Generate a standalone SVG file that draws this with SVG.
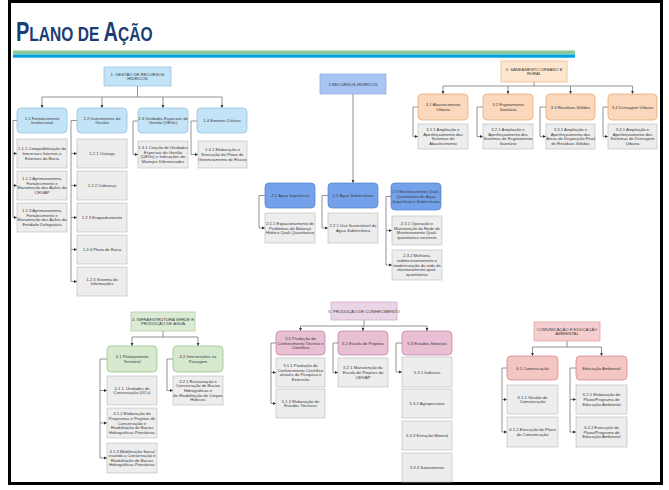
<svg xmlns="http://www.w3.org/2000/svg" width="669" height="490" viewBox="0 0 669 490">
<style>
text{font-family:"Liberation Sans",Arial,sans-serif;font-size:4.2px;fill:#3a3a3a;text-anchor:middle}
.g{fill:#ededed;stroke:#b8b8b8;stroke-width:0.6}
.b1{fill:#c3e3f7;stroke:#8cbddd;stroke-width:0.7}
.b2{fill:#a9c6f2;stroke:#86a8dc;stroke-width:0.7}
.b3{fill:#74a2ea;stroke:#4f7fcf;stroke-width:0.7}
.o1{fill:#fce6cf;stroke:#efb27c;stroke-width:0.7}
.o2{fill:#fbd8bb;stroke:#e3a36f;stroke-width:0.7}
.v1{fill:#dbebd4;stroke:#a9cc9c;stroke-width:0.7}
.v2{fill:#d6e9cf;stroke:#8fbf7e;stroke-width:0.7}
.p1{fill:#ead5e6;stroke:#c9a3c3;stroke-width:0.7}
.p2{fill:#e8bfd3;stroke:#c07a9e;stroke-width:0.7}
.r1{fill:#f5cfcf;stroke:#e09a9a;stroke-width:0.7}
.r2{fill:#f4c6c3;stroke:#d67d7d;stroke-width:0.7}
#conn path{fill:none;stroke:#666;stroke-width:0.7}
#conn .a{marker-end:url(#ar)}
</style>
<defs>
<marker id="ar" markerWidth="4" markerHeight="4" refX="3" refY="2" orient="auto" markerUnits="userSpaceOnUse"><path d="M0,0.6 L3,2 L0,3.4z" fill="#333"/></marker>
</defs>
<rect width="669" height="490" fill="#fff"/>
<rect x="9.5" y="1.5" width="652" height="482" fill="none" stroke="#000" stroke-width="3"/>
<g id="title">
<text transform="translate(16,41) scale(0.74,1)" style="text-anchor:start;font-weight:bold;fill:#1b3d74"><tspan font-size="27">P</tspan><tspan font-size="21">LANO DE </tspan><tspan font-size="27">A</tspan><tspan font-size="21">ÇÃO</tspan></text>
<rect x="13" y="50.5" width="562" height="4" fill="#8dc89b"/>
<rect x="13" y="54.5" width="562" height="3.2" fill="#00a3e0"/>
</g>

<g id="conn">
<path d="M137.5 86V97M42 97H222"/>
<path class="a" d="M42 97V108"/><path class="a" d="M102 97V108"/><path class="a" d="M163 97V108"/><path class="a" d="M222 97V108"/>
<path d="M17 120.5H13V217.5"/>
<path class="a" d="M13 153.5H17"/><path class="a" d="M13 185.5H17"/><path class="a" d="M13 217.5H17"/>
<path d="M77 120.5H71V281.5"/>
<path class="a" d="M71 153.5H77"/><path class="a" d="M71 185.5H77"/><path class="a" d="M71 217.5H77"/><path class="a" d="M71 249.5H77"/><path class="a" d="M71 281.5H77"/>
<path class="a" d="M138 121H133V154.5H138"/>
<path class="a" d="M197 121H191V154.5H198"/>
<path class="a" d="M353 94V183"/>
<path class="a" d="M265 195.5H259V228H265"/>
<path class="a" d="M328 195.5H322V228H328"/>
<path class="a" d="M391 196.5H386V265H392"/><path class="a" d="M386 230.5H392"/>
<path d="M534 82V86M443 86H632.5"/>
<path class="a" d="M443 86V94"/><path class="a" d="M508 86V94"/><path class="a" d="M570.5 86V94"/><path class="a" d="M632.5 86V94"/>
<path class="a" d="M418 107H413V136.5H418"/>
<path class="a" d="M483 107H477V136.5H483"/>
<path class="a" d="M546 107H540V136.5H546"/>
<path class="a" d="M608 107H603V136.5H608"/>
<path d="M163 331V337M132 337H198"/>
<path class="a" d="M132 337V346"/><path class="a" d="M198 337V346"/>
<path class="a" d="M107 359H100V458H107"/><path class="a" d="M100 390.5H107"/><path class="a" d="M100 423H107"/>
<path class="a" d="M173 359H167V390.5H173"/>
<path d="M364 320V326M300.5 326H427"/>
<path class="a" d="M300.5 326V331"/><path class="a" d="M363 326V331"/><path class="a" d="M427 326V331"/>
<path class="a" d="M276 343H271V403.5H276"/><path class="a" d="M271 372.5H276"/>
<path class="a" d="M338 343H333V372.5H338"/>
<path class="a" d="M402 343H396V372H402"/>
<path d="M567 341V347M532.5 347H601.5"/>
<path class="a" d="M532.5 347V356"/><path class="a" d="M601.5 347V356"/>
<path class="a" d="M507 368H502V432H507"/><path class="a" d="M502 399.5H507"/>
<path class="a" d="M576 368H570V432H576"/><path class="a" d="M570 399.5H576"/>
</g>

<!-- Section 1 -->
<g id="n1"><rect class="b1" x="104" y="67" width="67" height="19"/><text x="137.5" y="75.7">1. GESTÃO DE RECURSOS<tspan x="137.5" y="80.3">HÍDRICOS</tspan></text></g>
<g id="n1-1"><rect class="b1" x="17" y="108" width="50" height="25" rx="4"/><text x="42" y="119.7">1.1 Fortalecimento<tspan x="42" y="124.3">Institucional</tspan></text></g>
<g id="n1-2"><rect class="b1" x="77" y="108" width="50" height="25" rx="4"/><text x="102" y="119.7">1.2 Instrumentos de<tspan x="102" y="124.3">Gestão</tspan></text></g>
<g id="n1-3"><rect class="b1" x="138" y="108" width="50" height="25" rx="4"/><text x="163" y="119.7">1.3 Unidades Especiais de<tspan x="163" y="124.3">Gestão (UEGs)</tspan></text></g>
<g id="n1-4"><rect class="b1" x="197" y="108" width="50" height="25" rx="4"/><text x="222" y="122">1.4 Eventos Críticos</text></g>
<g id="n1-1-1"><rect class="g" x="17" y="139" width="50" height="29"/><text x="42" y="150.4">1.1.1 Compatibilização de<tspan x="42" y="155">Interesses Internos e</tspan><tspan x="42" y="159.6">Externos da Bacia</tspan></text></g>
<g id="n1-1-2"><rect class="g" x="17" y="171" width="50" height="29"/><text x="42" y="180.1">1.1.2 Aprimoramento,<tspan x="42" y="184.7">Fortalecimento e</tspan><tspan x="42" y="189.3">Manutenção das Ações do</tspan><tspan x="42" y="193.9">CEIVAP</tspan></text></g>
<g id="n1-1-3"><rect class="g" x="17" y="203" width="50" height="29"/><text x="42" y="212.1">1.1.3 Aprimoramento,<tspan x="42" y="216.7">Fortalecimento e</tspan><tspan x="42" y="221.3">Manutenção das Ações da</tspan><tspan x="42" y="225.9">Entidade Delegatária</tspan></text></g>
<g id="n1-2-1"><rect class="g" x="77" y="139" width="50" height="29"/><text x="102" y="155">1.2.1 Outorga</text></g>
<g id="n1-2-2"><rect class="g" x="77" y="171" width="50" height="29"/><text x="102" y="187">1.2.2 Cobrança</text></g>
<g id="n1-2-3"><rect class="g" x="77" y="203" width="50" height="29"/><text x="102" y="219">1.2.3 Enquadramento</text></g>
<g id="n1-2-4"><rect class="g" x="77" y="235" width="50" height="29"/><text x="102" y="251">1.2.4 Plano de Bacia</text></g>
<g id="n1-2-5"><rect class="g" x="77" y="267" width="50" height="29"/><text x="102" y="280.7">1.2.5 Sistema de<tspan x="102" y="285.3">Informações</tspan></text></g>
<g id="n1-3-1"><rect class="g" x="138" y="141" width="50" height="27"/><text x="163" y="149.1">1.3.1 Criação de Unidades<tspan x="163" y="153.7">Especiais de Gestão</tspan><tspan x="163" y="158.3">(UEGs) e Indicações de</tspan><tspan x="163" y="162.9">Manejos Diferenciados</tspan></text></g>
<g id="n1-4-1"><rect class="g" x="198" y="141" width="49" height="27"/><text x="222.5" y="151.4">1.4.1 Elaboração e<tspan x="222.5" y="156">Execução do Plano de</tspan><tspan x="222.5" y="160.6">Gerenciamento de Riscos</tspan></text></g>

<!-- Section 2 -->
<g id="n2"><rect class="b2" x="320" y="74" width="66" height="20"/><text x="353" y="85.5">2.RECURSOS HÍDRICOS</text></g>
<g id="n2-1"><rect class="b3" x="265" y="183" width="50" height="25" rx="4"/><text x="290" y="197">2.1 Água Superficial</text></g>
<g id="n2-2"><rect class="b3" x="328" y="183" width="50" height="25" rx="4"/><text x="353" y="197">2.2 Água Subterrânea</text></g>
<g id="n2-3"><rect class="b3" x="391" y="183" width="50" height="27" rx="4"/><text x="416" y="193.4">2.3 Monitoramento Quali-<tspan x="416" y="198">Quantitativo da Água</tspan><tspan x="416" y="202.6">Superficial e Subterrânea</tspan></text></g>
<g id="n2-1-1"><rect class="g" x="265" y="213" width="50" height="30"/><text x="290" y="224.9">2.1.1 Equacionamento de<tspan x="290" y="229.5">Problemas de Balanço</tspan><tspan x="290" y="234.1">Hídrico Quali-Quantitativo</tspan></text></g>
<g id="n2-2-1"><rect class="g" x="328" y="213" width="50" height="30"/><text x="353" y="227.2">2.2.1 Uso Sustentável da<tspan x="353" y="231.8">Água Subterrânea</tspan></text></g>
<g id="n2-3-1"><rect class="g" x="392" y="216" width="50" height="29"/><text x="417" y="225.1">2.3.1 Operação e<tspan x="417" y="229.7">Manutenção da Rede de</tspan><tspan x="417" y="234.3">Monitoramento Quali-</tspan><tspan x="417" y="238.9">quantitativa existente</tspan></text></g>
<g id="n2-3-2"><rect class="g" x="392" y="250" width="50" height="30"/><text x="417" y="257.3">2.3.2 Melhoria,<tspan x="417" y="261.9">redimensionamento e</tspan><tspan x="417" y="266.5">modernização da rede de</tspan><tspan x="417" y="271.1">monitoramento quali-</tspan><tspan x="417" y="275.7">quantitativa</tspan></text></g>

<!-- Section 3 -->
<g id="n3"><rect class="o1" x="501" y="61" width="66" height="21"/><text x="534" y="70.7">3. SANEAMENTO URBANO E<tspan x="534" y="75.3">RURAL</tspan></text></g>
<g id="n3-1"><rect class="o2" x="418" y="94" width="50" height="26" rx="4"/><text x="443" y="106.2">3.1 Abastecimento<tspan x="443" y="110.8">Urbano</tspan></text></g>
<g id="n3-2"><rect class="o2" x="483" y="94" width="50" height="26" rx="4"/><text x="508" y="106.2">3.2 Esgotamento<tspan x="508" y="110.8">Sanitário</tspan></text></g>
<g id="n3-3"><rect class="o2" x="546" y="94" width="49" height="26" rx="4"/><text x="570.5" y="108.5">3.3 Resíduos Sólidos</text></g>
<g id="n3-4"><rect class="o2" x="608" y="94" width="49" height="26" rx="4"/><text x="632.5" y="108.5">3.4 Drenagem Urbana</text></g>
<g id="n3-1-1"><rect class="g" x="418" y="124" width="50" height="25"/><text x="443" y="131.1">3.1.1 Ampliação e<tspan x="443" y="135.7">Aperfeiçoamento dos</tspan><tspan x="443" y="140.3">Sistemas de</tspan><tspan x="443" y="144.9">Abastecimento</tspan></text></g>
<g id="n3-2-1"><rect class="g" x="483" y="124" width="50" height="25"/><text x="508" y="131.1">3.2.1 Ampliação e<tspan x="508" y="135.7">Aperfeiçoamento dos</tspan><tspan x="508" y="140.3">Sistemas de Esgotamento</tspan><tspan x="508" y="144.9">Sanitário</tspan></text></g>
<g id="n3-3-1"><rect class="g" x="546" y="124" width="49" height="25"/><text x="570.5" y="131.1">3.3.1 Ampliação e<tspan x="570.5" y="135.7">Aperfeiçoamento das</tspan><tspan x="570.5" y="140.3">Áreas de Disposição Final</tspan><tspan x="570.5" y="144.9">de Resíduos Sólidos</tspan></text></g>
<g id="n3-4-1"><rect class="g" x="608" y="124" width="49" height="25"/><text x="632.5" y="131.1">3.4.1 Ampliação e<tspan x="632.5" y="135.7">Aperfeiçoamento dos</tspan><tspan x="632.5" y="140.3">Sistemas de Drenagem</tspan><tspan x="632.5" y="144.9">Urbana</tspan></text></g>

<!-- Section 4 -->
<g id="n4"><rect class="v1" x="131" y="312" width="64" height="19"/><text x="163" y="320.7">4. INFRAESTRUTURA VERDE E<tspan x="163" y="325.3">PRODUÇÃO DE ÁGUA</tspan></text></g>
<g id="n4-1"><rect class="v2" x="107" y="346" width="50" height="26" rx="4"/><text x="132" y="358.2">4.1 Planejamento<tspan x="132" y="362.8">Territorial</tspan></text></g>
<g id="n4-2"><rect class="v2" x="173" y="346" width="50" height="26" rx="4"/><text x="198" y="358.2">4.2 Intervenções na<tspan x="198" y="362.8">Paisagem</tspan></text></g>
<g id="n4-1-1"><rect class="g" x="107" y="376" width="50" height="29"/><text x="132" y="389.7">4.1.1. Unidades de<tspan x="132" y="394.3">Conservação (UCs)</tspan></text></g>
<g id="n4-1-2"><rect class="g" x="107" y="408" width="50" height="30"/><text x="132" y="415.3">4.1.2 Elaboração de<tspan x="132" y="419.9">Programas e Projetos de</tspan><tspan x="132" y="424.5">Conservação e</tspan><tspan x="132" y="429.1">Reabilitação de Bacias</tspan><tspan x="132" y="433.7">Hidrográficas Prioritárias</tspan></text></g>
<g id="n4-1-3"><rect class="g" x="107" y="443" width="50" height="30"/><text x="132" y="452.6">4.1.3 Mobilização Social<tspan x="132" y="457.2">visando a Conservação e</tspan><tspan x="132" y="461.8">Reabilitação de Bacias</tspan><tspan x="132" y="466.4">Hidrográficas Prioritárias</tspan></text></g>
<g id="n4-2-1"><rect class="g" x="173" y="376" width="50" height="29"/><text x="198" y="382.8">4.2.1 Restauração e<tspan x="198" y="387.4">Conservação de Bacias</tspan><tspan x="198" y="392">Hidrográficas e</tspan><tspan x="198" y="396.6">de Reabilitação de Corpos</tspan><tspan x="198" y="401.2">Hídricos</tspan></text></g>

<!-- Section 5 -->
<g id="n5"><rect class="p1" x="331" y="302" width="66" height="18"/><text x="364" y="312.5">5. PRODUÇÃO DE CONHECIMENTO</text></g>
<g id="n5-1"><rect class="p2" x="276" y="331" width="49" height="24" rx="4"/><text x="300.5" y="339.9">5.1 Produção do<tspan x="300.5" y="344.5">Conhecimento Técnico e</tspan><tspan x="300.5" y="349.1">Científico</tspan></text></g>
<g id="n5-2"><rect class="p2" x="338" y="331" width="50" height="24" rx="4"/><text x="363" y="344.5">5.2 Escola de Projetos</text></g>
<g id="n5-3"><rect class="p2" x="402" y="331" width="50" height="24" rx="4"/><text x="427" y="344.5">5.3 Estudos Setoriais</text></g>
<g id="n5-1-1"><rect class="g" x="276" y="358" width="49" height="29"/><text x="300.5" y="367.1">5.1.1 Produção do<tspan x="300.5" y="371.7">Conhecimento Científico</tspan><tspan x="300.5" y="376.3">através da Pesquisa e</tspan><tspan x="300.5" y="380.9">Extensão</tspan></text></g>
<g id="n5-1-2"><rect class="g" x="276" y="389" width="49" height="29"/><text x="300.5" y="402.7">5.1.2 Elaboração de<tspan x="300.5" y="407.3">Estudos Técnicos</tspan></text></g>
<g id="n5-2-1"><rect class="g" x="338" y="358" width="50" height="29"/><text x="363" y="369.4">5.2.1 Manutenção da<tspan x="363" y="374">Escola de Projetos do</tspan><tspan x="363" y="378.6">CEIVAP</tspan></text></g>
<g id="n5-3-1"><rect class="g" x="402" y="357" width="50" height="30"/><text x="427" y="373.5">5.3.1 Indústria</text></g>
<g id="n5-3-2"><rect class="g" x="402" y="389" width="50" height="29"/><text x="427" y="405">5.3.2 Agropecuária</text></g>
<g id="n5-3-3"><rect class="g" x="402" y="421" width="50" height="29"/><text x="427" y="437">5.3.3 Extração Mineral</text></g>
<g id="n5-3-4"><rect class="g" x="402" y="453" width="50" height="29"/><text x="427" y="469">5.3.4 Saneamento</text></g>

<!-- Section 6 -->
<g id="n6"><rect class="r1" x="534" y="322" width="66" height="19"/><text x="567" y="330.7">COMUNICAÇÃO E EDUCAÇÃO<tspan x="567" y="335.3">AMBIENTAL</tspan></text></g>
<g id="n6-1"><rect class="r2" x="507" y="356" width="51" height="24" rx="4"/><text x="532.5" y="369.5">6.1 Comunicação</text></g>
<g id="n6-2"><rect class="r2" x="576" y="356" width="51" height="24" rx="4"/><text x="601.5" y="369.5">Educação Ambiental</text></g>
<g id="n6-1-1"><rect class="g" x="507" y="385" width="51" height="29"/><text x="532.5" y="398.7">6.1.1 Gestão de<tspan x="532.5" y="403.3">Comunicação</tspan></text></g>
<g id="n6-1-2"><rect class="g" x="507" y="417" width="51" height="30"/><text x="532.5" y="431.2">6.1.2 Execução do Plano<tspan x="532.5" y="435.8">de Comunicação</tspan></text></g>
<g id="n6-2-1"><rect class="g" x="576" y="385" width="51" height="29"/><text x="601.5" y="396.4">6.2.1 Elaboração do<tspan x="601.5" y="401">Plano/Programa de</tspan><tspan x="601.5" y="405.6">Educação Ambiental</tspan></text></g>
<g id="n6-2-2"><rect class="g" x="576" y="417" width="51" height="30"/><text x="601.5" y="428.9">6.2.2 Execução do<tspan x="601.5" y="433.5">Plano/Programa de</tspan><tspan x="601.5" y="438.1">Educação Ambiental</tspan></text></g>
</svg>
